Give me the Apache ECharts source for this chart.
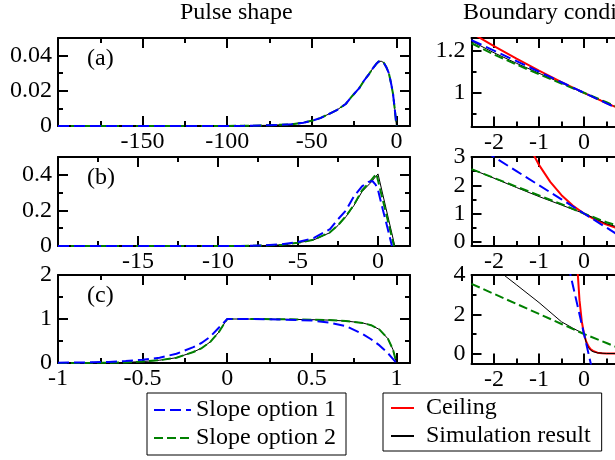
<!DOCTYPE html>
<html>
<head>
<meta charset="utf-8">
<script src="https://cdn.jsdelivr.net/npm/echarts@6/dist/echarts.min.js"></script>
<style>
  html, body { margin: 0; padding: 0; background: #fff; }
  #chart { width: 615px; height: 460px; }
</style>
</head>
<body>
<div id="chart"></div>
<script>
// ---- pulse shape (a)
var pulseAX = [-200, -110, -90, -75, -62, -55, -50, -45, -40, -35, -30, -26, -22, -19, -16, -14, -12, -10.5, -9, -7.5, -6, -4.5, -3, -2, -1, -0.5, 0];
var pulseASim = [0, 0, 0.0001, 0.0004, 0.001, 0.0019, 0.003, 0.0045, 0.0068, 0.0092, 0.0125, 0.0172, 0.0215, 0.026, 0.0298, 0.0327, 0.0352, 0.0366, 0.0368, 0.036, 0.0335, 0.030, 0.0235, 0.018, 0.0095, 0.005, 0];
var pulseASlope1 = [0, 0, 0.0001, 0.0004, 0.001, 0.0019, 0.003, 0.0045, 0.0068, 0.0092, 0.0125, 0.0172, 0.0215, 0.026, 0.0298, 0.0327, 0.0352, 0.0366, 0.0367, 0.0359, 0.0334, 0.030, 0.0234, 0.018, 0.0094, 0.005, 0];
var pulseASlope2 = [0, 0, 0.0001, 0.0004, 0.001, 0.0019, 0.003, 0.0045, 0.0068, 0.0092, 0.0125, 0.0172, 0.0215, 0.026, 0.0298, 0.0327, 0.0352, 0.0366, 0.0368, 0.036, 0.0335, 0.030, 0.0235, 0.018, 0.0095, 0.005, 0];

// ---- pulse shape (b)
var pulseBX = [-20, -9, -8, -7, -6, -5, -4, -3, -2.5, -2, -1.5, -1, -0.5, 0, 0.5, 1.05];
var pulseBSim = [0, 0, 0.001, 0.003, 0.007, 0.018, 0.035, 0.075, 0.115, 0.165, 0.228, 0.305, 0.352, 0.405, 0.212, 0];
var pulseBSlope2X = [-20, -9, -8, -7, -6, -5, -4, -3, -2.5, -2, -1.5, -1, -0.5, -0.1, 0.5, 1.0];
var pulseBSlope2 = [0, 0, 0.001, 0.003, 0.007, 0.018, 0.036, 0.077, 0.117, 0.168, 0.232, 0.312, 0.362, 0.405, 0.185, 0];
var pulseBSlope1X = [-20, -9, -8, -7, -6, -5, -4, -3, -2.5, -2, -1.5, -1, -0.6, -0.35, -0.15, 0, 0.3, 0.6, 0.87];
var pulseBSlope1 = [0, 0, 0.001, 0.004, 0.01, 0.022, 0.045, 0.095, 0.15, 0.2, 0.28, 0.335, 0.36, 0.365, 0.345, 0.315, 0.205, 0.1, 0];

// ---- pulse shape (c)
var pulseCX = [-1, -0.8, -0.7, -0.6, -0.5, -0.4, -0.3, -0.2, -0.15, -0.1, -0.05, 0, 0.1, 0.3, 0.5, 0.6, 0.7, 0.8, 0.85, 0.9, 0.95, 0.98, 1];
var pulseCSim = [0, 0.003, 0.007, 0.014, 0.033, 0.063, 0.12, 0.25, 0.34, 0.48, 0.70, 1, 1, 0.995, 0.985, 0.975, 0.955, 0.91, 0.86, 0.76, 0.55, 0.3, 0];
var pulseCSlope2 = [0, 0.003, 0.007, 0.014, 0.033, 0.063, 0.12, 0.25, 0.34, 0.48, 0.70, 1, 1, 0.995, 0.985, 0.975, 0.955, 0.91, 0.86, 0.76, 0.55, 0.3, 0];
var pulseCSlope1 = [0.006, 0.015, 0.025, 0.045, 0.075, 0.12, 0.21, 0.36, 0.46, 0.6, 0.8, 1, 1, 0.99, 0.965, 0.92, 0.84, 0.66, 0.54, 0.40, 0.22, 0.09, 0];

// ---- boundary conditions
var bcX = [-2.5, -2, -1.5, -1, -0.5, 0, 0.5, 1, 1.5];
var bcASim = [1.245, 1.19, 1.14, 1.093, 1.046, 1, 0.952, 0.905, 0.86];
var bcASlope1 = [1.25, 1.2, 1.15, 1.1, 1.05, 1, 0.95, 0.9, 0.85];
var bcASlope2 = [1.235, 1.182, 1.134, 1.088, 1.044, 1, 0.955, 0.91, 0.865];
var bcACeil = [1.284, 1.221, 1.162, 1.105, 1.051, 1, 0.951, 0.905, 0.861];

var bcBSim = [2.57, 2.25, 1.92, 1.6, 1.3, 1, 0.64, 0.4, 0.22];
var bcBSlope1 = [3.5, 3, 2.5, 2, 1.5, 1, 0.5, 0, -0.5];
var bcBSlope2 = [2.57, 2.26, 1.95, 1.64, 1.33, 1, 0.69, 0.45, 0.25];
var bcBCeilX = [-1.2, -1, -0.75, -0.5, -0.25, 0, 0.25, 0.5, 0.75, 1, 1.5];
var bcBCeil = [3.32, 2.72, 2.12, 1.65, 1.28, 1, 0.78, 0.61, 0.47, 0.37, 0.22];

var bcCSimX = [-2.5, -1.78, -1.5, -1, -0.5, -0.25, 0, 0.05, 0.1, 0.15, 0.2, 0.3, 0.5, 1, 1.5];
var bcCSim = [5.3, 4, 3.5, 2.6, 1.62, 1.3, 1, 0.55, 0.3, 0.17, 0.1, 0.04, 0.01, 0, 0];
var bcCSlope1X = [-0.35, 0, 0.2];
var bcCSlope1 = [4.5, 1, -1];
var bcCSlope2 = [3.55, 3.04, 2.53, 2.02, 1.51, 1, 0.54, 0.08, -0.38];
var bcCCeilX = [-0.15, -0.1, -0.05, 0, 0.05, 0.1, 0.15, 0.2, 0.3, 0.4, 0.5, 1, 1.5];
var bcCCeil = [4.48, 2.72, 1.65, 1, 0.61, 0.37, 0.22, 0.14, 0.05, 0.02, 0.007, 0, 0];

// ---- ticks
var ticksPulseAX = {min: -200, max: 8, major: [-150, -100, -50, 0], minor: [-175, -125, -75, -25]};
var ticksPulseAY = {min: 0, max: 0.05, major: [0, 0.02, 0.04], minor: [0.01, 0.03]};
var ticksPulseBX = {min: -20, max: 2, major: [-15, -10, -5, 0], minor: [-17.5, -12.5, -7.5, -2.5]};
var ticksPulseBY = {min: 0, max: 0.5, major: [0, 0.2, 0.4], minor: [0.1, 0.3]};
var ticksPulseCX = {min: -1, max: 1.08, major: [-1, -0.5, 0, 0.5, 1], minor: [-0.75, -0.25, 0.25, 0.75]};
var ticksPulseCY = {min: 0, max: 2, major: [0, 1, 2], minor: [0.5, 1.5]};
var ticksBcX = {min: -2.5, max: 1.5, major: [-2, -1, 0, 1], minor: [-1.5, -0.5, 0.5]};
var ticksBcAY = {min: 0.84, max: 1.26, major: [1, 1.2], minor: [0.9, 1.1]};
var ticksBcBY = {min: -0.15, max: 3, major: [0, 1, 2, 3], minor: [0.5, 1.5, 2.5]};
var ticksBcCY = {min: -0.5, max: 4, major: [0, 2, 4], minor: [1, 3]};

var FONT = 'Liberation Serif';
var BLUE = '#0000ff', GREEN = '#008000', RED = '#ff0000', BLACK = '#000000';

var grids = [
  {left: 58, top: 38, width: 352, height: 88},
  {left: 58, top: 157, width: 352, height: 89},
  {left: 58, top: 275, width: 352, height: 88},
  {left: 471.5, top: 38, width: 180, height: 88.5},
  {left: 471.5, top: 157, width: 180, height: 89},
  {left: 471.5, top: 275, width: 180, height: 88.5}
].map(function (g) { g.outerBoundsMode = 'none'; g.containLabel = false; return g; });

var xAxes = [], yAxes = [];

// each side gets a major-tick axis and a minor-tick axis; ticks point inward like the original
function addAxes(list, grid, spec, dim) {
  var sides = dim === 'x' ? ['bottom', 'top'] : ['left', 'right'];
  var mainIdx = list.length;
  sides.forEach(function (pos, k) {
    list.push({
      type: 'value', gridIndex: grid, position: pos, min: spec.min, max: spec.max,
      axisLine: {show: true, onZero: false, lineStyle: {color: BLACK, width: 2}},
      axisTick: {show: true, inside: true, length: 10, customValues: spec.major,
        lineStyle: {color: BLACK, width: 2}},
      axisLabel: {show: k === 0, customValues: spec.major, margin: dim === 'x' ? 4 : 6,
        color: BLACK, fontFamily: FONT, fontSize: 24},
      splitLine: {show: false}
    });
    list.push({
      type: 'value', gridIndex: grid, position: pos, min: spec.min, max: spec.max,
      axisLine: {show: false, onZero: false},
      axisTick: {show: true, inside: true, length: 5, customValues: spec.minor,
        lineStyle: {color: BLACK, width: 2}},
      axisLabel: {show: false},
      splitLine: {show: false}
    });
  });
  return mainIdx;
}

var axisSpecs = [
  [ticksPulseAX, ticksPulseAY],
  [ticksPulseBX, ticksPulseBY],
  [ticksPulseCX, ticksPulseCY],
  [ticksBcX, ticksBcAY],
  [ticksBcX, ticksBcBY],
  [ticksBcX, ticksBcCY]
];
var xIdx = [], yIdx = [];
axisSpecs.forEach(function (s, g) {
  xIdx.push(addAxes(xAxes, g, s[0], 'x'));
  yIdx.push(addAxes(yAxes, g, s[1], 'y'));
});

function zip(xs, ys) {
  return xs.map(function (x, i) { return [x, ys[i]]; });
}

var styles = {
  'Slope option 1': {color: BLUE, width: 2, type: [11, 5]},
  'Slope option 2': {color: GREEN, width: 2, type: [9, 4]},
  'Ceiling': {color: RED, width: 2, type: 'solid'},
  'Simulation result': {color: BLACK, width: 1, type: 'solid'}
};

function line(name, g, xs, ys) {
  return {
    type: 'line', name: name, xAxisIndex: xIdx[g], yAxisIndex: yIdx[g],
    data: zip(xs, ys), symbol: 'none', showSymbol: false, silent: true,
    lineStyle: styles[name], itemStyle: {color: styles[name].color}
  };
}

var series = [
  line('Simulation result', 0, pulseAX, pulseASim),
  line('Slope option 2', 0, pulseAX, pulseASlope2),
  line('Slope option 1', 0, pulseAX, pulseASlope1),

  line('Simulation result', 1, pulseBX, pulseBSim),
  line('Slope option 2', 1, pulseBSlope2X, pulseBSlope2),
  line('Slope option 1', 1, pulseBSlope1X, pulseBSlope1),

  line('Simulation result', 2, pulseCX, pulseCSim),
  line('Slope option 2', 2, pulseCX, pulseCSlope2),
  line('Slope option 1', 2, pulseCX, pulseCSlope1),

  line('Simulation result', 3, bcX, bcASim),
  line('Ceiling', 3, bcX, bcACeil),
  line('Slope option 2', 3, bcX, bcASlope2),
  line('Slope option 1', 3, bcX, bcASlope1),

  line('Ceiling', 4, bcBCeilX, bcBCeil),
  line('Simulation result', 4, bcX, bcBSim),
  line('Slope option 2', 4, bcX, bcBSlope2),
  line('Slope option 1', 4, bcX, bcBSlope1),

  line('Ceiling', 5, bcCCeilX, bcCCeil),
  line('Simulation result', 5, bcCSimX, bcCSim),
  line('Slope option 2', 5, bcX, bcCSlope2),
  line('Slope option 1', 5, bcCSlope1X, bcCSlope1)
];

var txt = {fontFamily: FONT, fontSize: 24, fontWeight: 'normal', color: BLACK};
var legendText = {fontFamily: FONT, fontSize: 24, color: BLACK};

var option = {
  animation: false,
  backgroundColor: '#fff',
  title: [
    {text: 'Pulse shape', left: 180, top: 1, padding: 0, textStyle: txt},
    {text: 'Boundary conditions', left: 463, top: 1, padding: 0, textStyle: txt},
    {text: '(a)', left: 87, top: 47, padding: 0, textStyle: txt},
    {text: '(b)', left: 87, top: 166, padding: 0, textStyle: txt},
    {text: '(c)', left: 87, top: 284, padding: 0, textStyle: txt}
  ],
  legend: [
    {
      data: ['Slope option 1', 'Slope option 2'], orient: 'vertical',
      left: 147, top: 393, itemWidth: 37, itemHeight: 14, itemGap: 4,
      padding: [5, 10, 5, 6], borderColor: BLACK, borderWidth: 1,
      selectedMode: false, itemStyle: {opacity: 0, borderWidth: 0},
      textStyle: legendText
    },
    {
      data: ['Ceiling', 'Simulation result'], orient: 'vertical',
      left: 383, top: 393, itemWidth: 23, itemHeight: 14, itemGap: 4,
      padding: [3, 11, 3, 7], borderColor: BLACK, borderWidth: 1,
      selectedMode: false, itemStyle: {opacity: 0, borderWidth: 0},
      textStyle: Object.assign({padding: [0, 0, 0, 7]}, legendText)
    }
  ],
  grid: grids,
  xAxis: xAxes,
  yAxis: yAxes,
  series: series
};

var chart = echarts.init(document.getElementById('chart'), null, {renderer: 'canvas'});
chart.setOption(option);
</script>
</body>
</html>
